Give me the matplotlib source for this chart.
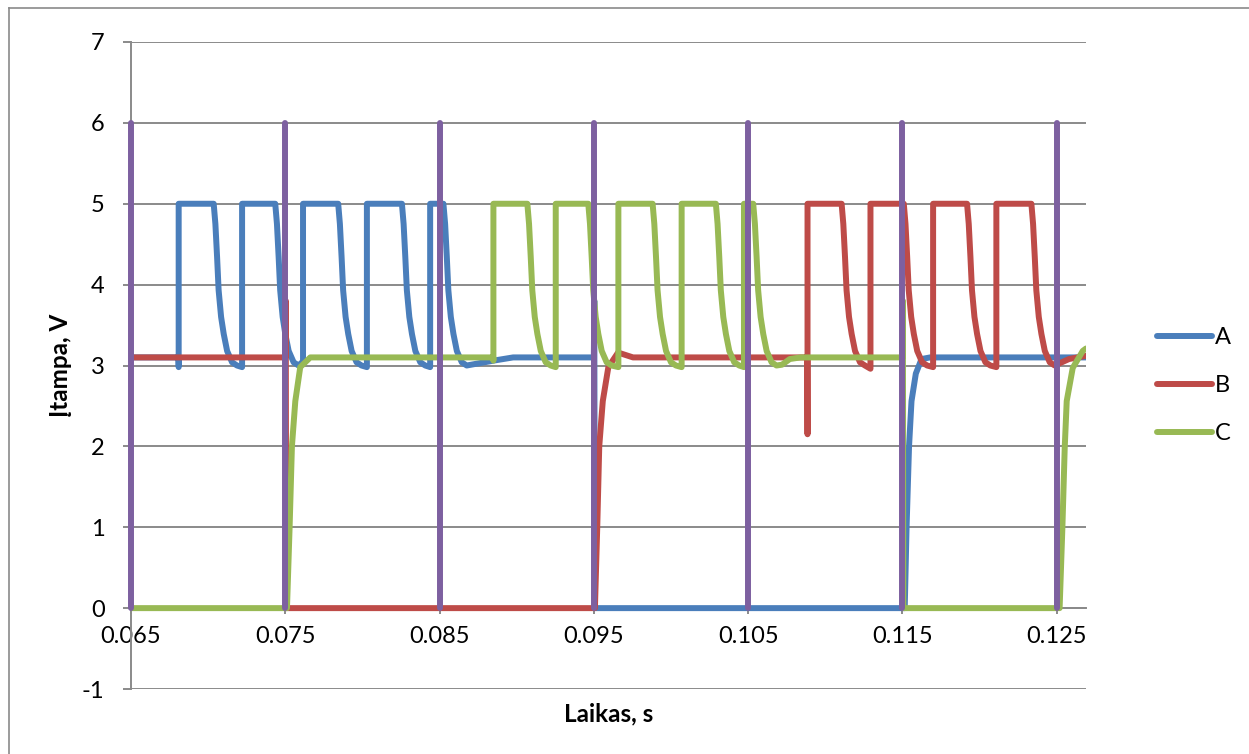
import numpy as np
import matplotlib
matplotlib.use('Agg')
import matplotlib.pyplot as plt
from matplotlib.lines import Line2D

# ---------------- data ----------------
X_TICKS = [0.065, 0.075, 0.085, 0.095, 0.105, 0.115, 0.125]
X_TICK_LABELS = ['0.065', '0.075', '0.085', '0.095', '0.105', '0.115', '0.125']
Y_TICKS = [-1, 0, 1, 2, 3, 4, 5, 6, 7]
X_MIN, X_MAX = 0.065, 0.1269

# purple commutation markers (vertical spikes 0 -> 6)
MARK_T = [0.065, 0.075, 0.085, 0.095, 0.105, 0.115, 0.125]
MARK_LOW = 0.0
MARK_HIGH = 6.0

PWM_HIGH = 5.0
# shape of the fall after each PWM pulse (time after fall start, value)
DECAY_DT = [0.0, 0.00011, 0.00022, 0.00032, 0.00048, 0.00065, 0.00087, 0.00119, 0.00151]
DECAY_V = [5.0, 4.75, 4.34, 3.93, 3.60, 3.39, 3.18, 3.04, 3.00]

# Series A
A_PRE_T = [0.065, 0.06808]
A_PRE_V = [3.10, 3.10]
A_RISE = [0.06809, 0.07220, 0.07615, 0.08029, 0.08439]
A_FALL = [0.07036, 0.07435, 0.07843, 0.08256, 0.08525]
A_DIP = [2.98, 2.98, 3.05, 2.98, 2.98]
A_POST_T = [0.08763, 0.08849, 0.08977, 0.09500, 0.09503, 0.09506, 0.11515, 0.11527,
            0.11543, 0.11559, 0.11587, 0.11624, 0.11680, 0.1269]
A_POST_V = [3.03, 3.06, 3.10, 3.10, 3.80, 0.00, 0.00, 1.00,
            2.00, 2.56, 2.90, 3.08, 3.10, 3.10]

# Series B
B_PRE_T = [0.065, 0.07500, 0.07503, 0.07506, 0.09507, 0.09522, 0.09535, 0.09558,
           0.09594, 0.09657, 0.09754, 0.10884]
B_PRE_V = [3.10, 3.10, 3.80, 0.00, 0.00, 1.00, 2.00, 2.56,
           2.98, 3.16, 3.10, 3.10]
B_RISE = [0.10885, 0.11293, 0.11699, 0.12109]
B_FALL = [0.11106, 0.11509, 0.11919, 0.12336]
B_DIP = [2.15, 2.96, 2.98, 2.98]
B_POST_T = [0.1258, 0.1269]
B_POST_V = [3.08, 3.12]

# Series C
C_PRE_T = [0.065, 0.07511, 0.07528, 0.07543, 0.07565, 0.07597, 0.07662, 0.08848]
C_PRE_V = [0.00, 0.00, 1.00, 2.00, 2.56, 2.98, 3.10, 3.10]
C_RISE = [0.08849, 0.09253, 0.09659, 0.10069, 0.10473]
C_FALL = [0.09069, 0.09464, 0.09881, 0.10291, 0.10533]
C_DIP = [3.06, 2.98, 2.98, 2.98, 2.98]
C_POST_T = [0.10720, 0.10770, 0.10840, 0.11500, 0.11503, 0.11506, 0.12519, 0.12537,
            0.12552, 0.12565, 0.12604, 0.12669, 0.1269]
C_POST_V = [3.01, 3.08, 3.10, 3.10, 3.80, 0.00, 0.00, 1.00,
            1.98, 2.56, 2.97, 3.18, 3.21]

SERIES_NAMES = ['A', 'B', 'C']


def build(pre_t, pre_v, rises, falls, dips, post_t, post_v):
    t = list(pre_t)
    v = list(pre_v)
    for r, f, d in zip(rises, falls, dips):
        t += [r, r, f]
        v += [d, PWM_HIGH, PWM_HIGH]
        t += [f + dt for dt in DECAY_DT[1:]]
        v += DECAY_V[1:]
    t += post_t
    v += post_v
    return np.array(t), np.array(v)


A_t, A_v = build(A_PRE_T, A_PRE_V, A_RISE, A_FALL, A_DIP, A_POST_T, A_POST_V)
B_t, B_v = build(B_PRE_T, B_PRE_V, B_RISE, B_FALL, B_DIP, B_POST_T, B_POST_V)
C_t, C_v = build(C_PRE_T, C_PRE_V, C_RISE, C_FALL, C_DIP, C_POST_T, C_POST_V)

mark_x, mark_y = [], []
for m in MARK_T:
    mark_x += [m, m, np.nan]
    mark_y += [MARK_LOW, MARK_HIGH, np.nan]

# ---------------- styling ----------------
plt.rcParams['font.family'] = ['Lato', 'DejaVu Sans']
COL_A = '#4a7ebb'
COL_B = '#be4b48'
COL_C = '#98b954'
COL_M = '#7d60a0'
GRID = '#8a8a8a'
LW = 4.3
FS = 17

fig = plt.figure(figsize=(12.49, 7.54), dpi=100)
W, H = 1249, 754
left, right, top, bottom = 131, 1086, 42, 689
ax = fig.add_axes([left / W, 1 - bottom / H, (right - left) / W, (bottom - top) / H])

kw = dict(lw=LW, solid_capstyle='round', solid_joinstyle='round')
ax.plot(A_t, A_v, color=COL_A, label=SERIES_NAMES[0], zorder=3, **kw)
ax.plot(B_t, B_v, color=COL_B, label=SERIES_NAMES[1], zorder=4, **kw)
ax.plot(C_t, C_v, color=COL_C, label=SERIES_NAMES[2], zorder=5, **kw)
ax.plot(mark_x, mark_y, color=COL_M, zorder=6, clip_on=False, **kw)

ax.set_xlim(X_MIN, X_MAX)
ax.set_ylim(-1, 7)
ax.set_yticks(Y_TICKS)
ax.set_yticklabels([str(y) for y in Y_TICKS])
ax.set_xticks(X_TICKS)
ax.set_xticklabels(X_TICK_LABELS)

ax.yaxis.grid(True, color=GRID, lw=1.4)
ax.xaxis.grid(False)
ax.set_axisbelow(True)

for s in ['top', 'right']:
    ax.spines[s].set_visible(False)
ax.spines['bottom'].set_position(('data', 0))
ax.spines['bottom'].set_color(GRID)
ax.spines['bottom'].set_linewidth(1.4)
ax.spines['bottom'].set_zorder(1)
ax.spines['left'].set_color(GRID)
ax.spines['left'].set_linewidth(1.4)

ax.tick_params(axis='x', direction='out', length=4, width=1.4, color=GRID,
               labelsize=FS, pad=9, labelcolor='black')
ax.tick_params(axis='y', direction='out', length=6, width=1.4, color=GRID,
               labelsize=FS, pad=13, labelcolor='black')

ax.set_xlabel('Laikas, s', fontsize=FS + 0.5, fontweight='bold')
ax.xaxis.set_label_coords(0.5, -0.02)
ax.set_ylabel('Įtampa, V', fontsize=FS + 0.5, fontweight='bold')
ax.yaxis.set_label_coords(-0.062, 0.5)

leg = ax.legend(loc='center left', bbox_to_anchor=(1157 / W, 1 - 385.5 / H),
                bbox_transform=fig.transFigure, frameon=False, fontsize=FS,
                handlelength=2.33, handletextpad=0.13, labelspacing=1.15,
                borderpad=0, borderaxespad=0)
for h in leg.get_lines():
    h.set_linewidth(LW)
    h.set_solid_capstyle('round')

# chart border (left and top edges visible in the reference)
fig.add_artist(Line2D([9 / W, 9 / W], [0, 1 - 8 / H], transform=fig.transFigure,
                      color=GRID, lw=1.2))
fig.add_artist(Line2D([9 / W, 1], [1 - 8 / H, 1 - 8 / H], transform=fig.transFigure,
                      color=GRID, lw=1.2))

fig.savefig('out.png', dpi=100)
